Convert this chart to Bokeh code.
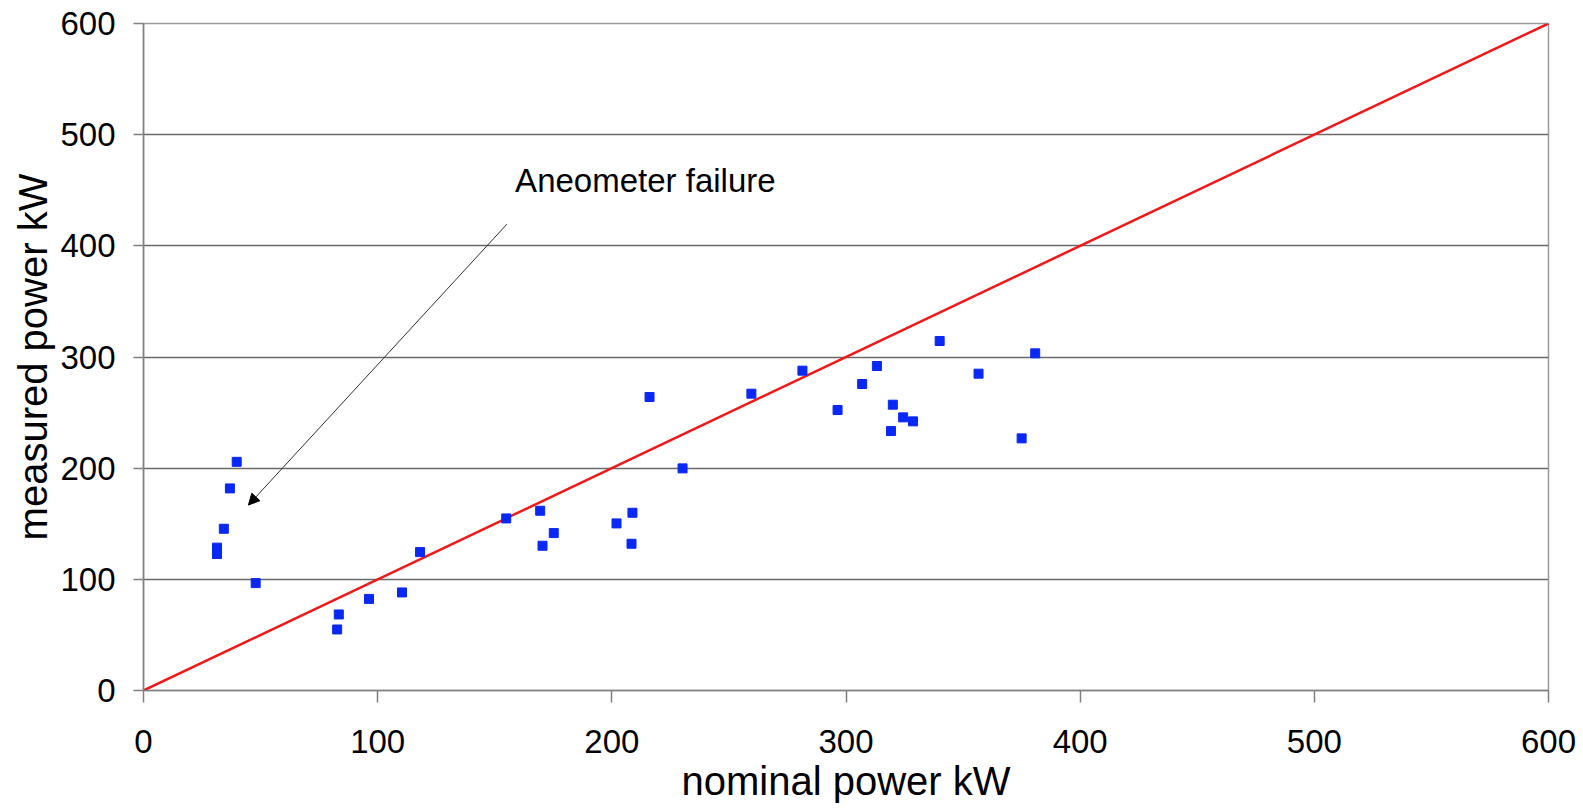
from bokeh.plotting import figure
from bokeh.models import Range1d, FixedTicker, Arrow, NormalHead, Label, ColumnDataSource
from bokeh.embed import file_html
from bokeh.resources import INLINE

nominal = [39.8, 36.9, 34.3, 31.4, 31.4, 47.9, 83.4, 82.7, 96.3, 110.4, 118.1,
           154.9, 169.4, 175.2, 170.4, 202.0, 208.8, 208.4, 230.2, 216.1, 259.6,
           281.4, 296.4, 306.9, 313.2, 320.0, 324.4, 328.6, 319.2, 340.0, 356.6,
           380.8, 375.0]
measured = [205.7, 181.8, 145.5, 128.5, 122.8, 96.6, 68.4, 54.9, 82.4, 88.2, 124.5,
            154.8, 161.7, 141.6, 130.2, 150.3, 159.9, 132.0, 199.8, 264.0, 267.0,
            287.7, 252.3, 275.7, 291.9, 257.1, 245.7, 242.1, 233.4, 314.4, 285.0,
            303.3, 226.8]
ideal_x = [0, 600]
ideal_y = [0, 600]
ticks = [0, 100, 200, 300, 400, 500, 600]
grid_ticks = [100, 200, 300, 400, 500]
annotation_text = "Aneometer failure"
x_title = "nominal power kW"
y_title = "measured power kW"

FONT = "Liberation Sans"

p = figure(frame_width=1405, frame_height=667,
           min_border_left=143, min_border_top=23, min_border_right=28,
           min_border_bottom=113,
           x_range=Range1d(0, 600), y_range=Range1d(0, 600),
           output_backend="svg", toolbar_location=None,
           background_fill_color="white", border_fill_color="white")

p.outline_line_color = "#9a9a9a"
p.outline_line_width = 1.5

p.xgrid.visible = False
p.ygrid.ticker = FixedTicker(ticks=grid_ticks)
p.ygrid.grid_line_color = "#6a6a6a"
p.ygrid.grid_line_width = 1.5

for ax in (p.xaxis[0], p.yaxis[0]):
    ax.ticker = FixedTicker(ticks=ticks)
    ax.axis_line_color = "#808080"
    ax.axis_line_width = 1.5
    ax.major_tick_line_color = "#808080"
    ax.major_tick_line_width = 1.5
    ax.major_tick_in = 0
    ax.minor_tick_line_color = None
    ax.major_label_text_font = FONT
    ax.major_label_text_font_size = "33px"
    ax.major_label_text_color = "black"
    ax.axis_label_text_font = FONT
    ax.axis_label_text_font_size = "40px"
    ax.axis_label_text_font_style = "normal"
    ax.axis_label_text_color = "black"

p.xaxis.major_tick_out = 12
p.xaxis.major_label_standoff = 27
p.xaxis.axis_label_standoff = 3
p.xaxis.axis_label = x_title

p.yaxis.major_tick_out = 10
p.yaxis.major_label_standoff = 18
p.yaxis.axis_label_standoff = 2
p.yaxis.axis_label = y_title

p.line(ideal_x, ideal_y, line_color="#f01818", line_width=2.5)

src = ColumnDataSource(dict(x=nominal, y=measured))
p.scatter("x", "y", source=src, marker="square", size=9,
          fill_color="#0a28f5", line_color="#0a28f5")

p.add_layout(Arrow(x_start=155.2, y_start=419.5, x_end=44.8, y_end=166.8,
                   line_color="#333333", line_width=1,
                   end=NormalHead(size=11, fill_color="black", line_color="black")))
p.add_layout(Label(x=158.7, y=458.4, text=annotation_text,
                   text_font=FONT, text_font_size="33px", text_color="black",
                   text_baseline="alphabetic"))

open("out.html", "w").write(file_html(p, INLINE))
